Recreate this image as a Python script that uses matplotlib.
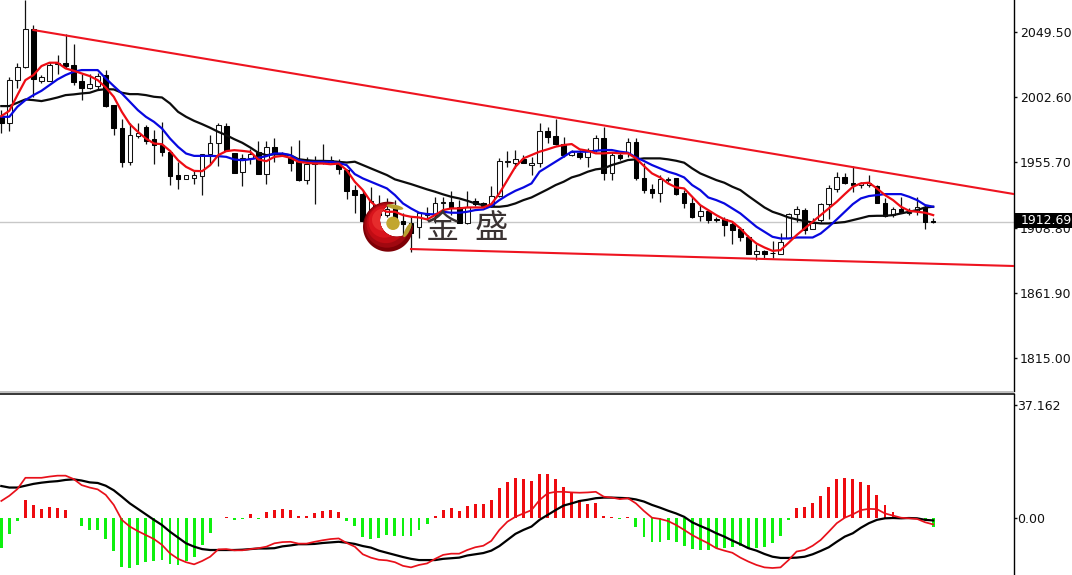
import numpy as np
import matplotlib
matplotlib.use("Agg")
import matplotlib.pyplot as plt
from matplotlib.patches import Polygon, Circle, Ellipse, Rectangle

W, H = 1072, 575

opens = [1988.5,1983.7,2014.9,2024.0,2051.4,2014.4,2014.4,2026.4,2026.9,2025.5,2014.0,2009.1,2010.6,2018.3,1996.9,1980.8,
1955.9,1974.6,1981.1,1972.7,1967.9,1963.1,1946.3,1943.6,1944.3,1945.8,1961.6,1969.3,1981.8,1962.6,1948.9,1958.7,
1963.3,1947.2,1966.9,1960.7,1959.7,1955.9,1942.9,1954.9,1955.4,1954.9,1954.9,1950.1,
1935.8,1932.7,1918.0,1925.0,1918.0,1923.8,1913.7,1911.8,1909.4,1917.8,1917.8,1926.2,1927.4,1923.8,1912.3,1928.1,
1926.2,1924.8,1931.7,1955.7,1955.5,1958.4,1953.6,1955.0,1978.5,1974.7,1968.9,1960.8,1962.2,1959.8,1964.6,1973.0,
1947.8,1960.8,1962.7,1970.6,1944.7,1936.3,1933.9,1943.0,1944.2,1933.4,1926.2,1917.1,1920.4,1914.7,1914.7,1911.1,
1907.5,1902.2,1889.7,1892.1,1890.7,1889.7,1901.0,1918.3,1921.4,1908.0,1914.2,1925.7,1936.8,1945.4,1941.1,1939.2,
1939.6,1938.7,1926.7,1918.0,1921.9,1919.5,1920.9,1923.3,1913.7]
closes = [1983.7,2014.9,2024.0,2051.4,2015.4,2016.8,2025.7,2027.4,2025.0,2013.5,2009.1,2011.8,2017.8,1996.2,1980.6,1955.9,
1975.3,1977.0,1971.2,1967.9,1963.1,1945.8,1943.6,1946.7,1946.3,1961.6,1969.3,1982.3,1964.5,1948.2,1958.7,1961.6,
1947.2,1966.9,1961.6,1961.6,1955.4,1942.9,1954.9,1956.3,1956.8,1957.3,1950.6,1935.2,
1932.2,1913.7,1928.0,1918.0,1922.0,1911.8,1911.3,1904.6,1919.5,1919.5,1926.7,1927.2,1923.3,1912.3,1923.3,1925.7,
1924.3,1931.7,1956.4,1956.4,1958.4,1955.5,1955.0,1978.5,1974.2,1968.9,1960.8,1963.2,1959.8,1964.6,1973.0,1947.8,
1961.0,1958.8,1970.6,1944.7,1935.8,1933.4,1943.5,1943.5,1932.9,1926.2,1916.6,1920.4,1914.2,1914.2,1910.6,1907.0,
1901.7,1889.7,1892.1,1889.7,1890.2,1898.6,1918.5,1921.9,1907.0,1912.3,1925.5,1937.2,1945.4,1940.6,1939.2,1940.6,
1940.6,1926.2,1917.1,1921.9,1920.0,1920.2,1923.3,1912.8,1913.2]
highs = [1993.3,2017.3,2026.9,2072.5,2054.5,2018.5,2028.1,2032.9,2047.8,2040.8,2019.2,2019.2,2019.7,2022.1,1996.9,1986.6,
1983.7,1983.7,1982.5,1978.9,1984.9,1964.5,1956.1,1946.7,1950.1,1962.1,1975.3,1983.7,1983.7,1962.6,1961.6,1965.0,
1971.0,1971.2,1973.6,1963.3,1967.4,1971.7,1959.7,1960.2,1968.8,1960.2,1958.5,1951.3,
1939.4,1935.8,1937.7,1932.0,1929.8,1928.6,1919.0,1916.6,1920.2,1923.3,1931.0,1931.0,1935.3,1928.6,1935.3,1929.8,
1927.4,1938.9,1958.6,1964.1,1964.6,1961.0,1959.8,1984.3,1981.4,1986.7,1974.2,1964.6,1964.6,1965.8,1975.4,1981.4,
1963.4,1962.2,1973.0,1973.0,1955.0,1940.1,1946.6,1944.9,1944.2,1935.8,1930.5,1925.0,1920.9,1916.6,1916.6,1913.0,
1909.4,1903.4,1896.9,1892.6,1899.3,1905.1,1919.0,1924.3,1922.6,1915.4,1926.2,1939.4,1949.0,1948.3,1953.1,1941.8,
1946.6,1939.4,1929.8,1923.8,1931.0,1922.6,1931.0,1925.0,1915.4]
lows = [1976.5,1978.4,2008.9,2023.3,2002.9,2012.5,2014.4,2019.2,2023.3,2011.3,2000.5,2008.2,2007.7,1995.2,1975.3,1952.5,
1953.7,1973.6,1968.8,1954.4,1960.2,1939.3,1936.9,1943.6,1940.0,1932.1,1954.9,1953.0,1964.0,1948.2,1938.6,1954.9,
1947.2,1940.0,1956.1,1960.2,1949.6,1942.4,1940.0,1925.6,1954.9,1954.4,1947.7,1929.7,
1919.0,1913.0,1916.1,1915.0,1916.6,1908.2,1903.4,1891.4,1901.0,1914.2,1911.8,1919.0,1917.8,1911.8,1911.3,1924.3,
1923.3,1923.8,1931.0,1952.6,1951.4,1955.0,1946.6,1952.6,1969.9,1968.2,1959.8,1960.3,1957.9,1952.6,1963.4,1943.0,
1943.0,1957.4,1959.8,1943.0,1933.9,1929.8,1927.4,1941.8,1932.2,1922.6,1915.4,1913.7,1911.8,1913.0,1902.7,1896.9,
1899.3,1889.7,1885.4,1887.3,1886.6,1889.7,1901.0,1913.0,1904.1,1907.5,1913.0,1914.7,1934.6,1940.1,1934.6,1937.0,
1938.2,1926.2,1916.1,1916.6,1919.0,1917.8,1917.8,1907.5,1911.8]

ma_red = [1989.0,1992.8,2004.1,2014.9,2018.5,2025.0,2027.4,2027.4,2023.3,2021.6,2019.7,2017.8,2014.9,2009.6,2002.9,1992.1,
1983.2,1977.7,1972.9,1969.3,1968.8,1964.0,1957.3,1952.5,1949.6,1949.4,1953.7,1960.9,1963.8,1964.5,1964.0,1963.3,
1957.8,1956.6,1959.7,1960.4,1959.0,1956.1,1955.4,1954.9,1954.9,1954.4,1954.9,1950.1,
1941.8,1935.8,1927.4,1922.6,1920.2,1920.2,1917.8,1916.6,1916.1,1914.7,1917.8,1921.4,1922.6,1922.6,1923.3,1923.3,
1923.3,1925.7,1933.4,1943.0,1952.6,1958.6,1961.0,1963.4,1965.1,1967.0,1968.2,1968.9,1965.1,1964.1,1962.2,1962.2,
1962.7,1962.2,1962.2,1958.6,1953.1,1947.8,1944.9,1940.6,1937.7,1937.0,
1931.0,1925.0,1921.4,1917.8,1914.7,1913.0,1908.2,1902.2,1897.4,1894.5,1892.1,1892.6,1897.9,1903.4,1908.2,1913.0,
1917.8,1922.6,1927.4,1932.9,1938.2,1940.6,1941.1,1937.0,1932.2,1928.6,1923.8,1920.9,1920.2,1919.5,1917.8]
ma_blue = [1988.5,1988.5,1995.7,2000.5,2004.1,2007.2,2011.3,2015.4,2018.5,2020.9,2022.1,2022.1,2022.1,2016.1,2010.6,2005.3,
1999.3,1993.3,1988.5,1984.9,1980.1,1972.9,1966.9,1962.1,1960.4,1960.4,1960.4,1960.2,1959.7,1957.8,1957.3,1958.0,
1959.0,1960.2,1962.1,1962.1,1960.9,1957.3,1956.1,1956.1,1956.1,1956.1,1955.4,1953.7,
1947.3,1944.2,1941.8,1939.4,1937.0,1932.2,1926.2,1922.6,1919.5,1918.5,1918.3,1920.2,1919.5,1919.5,1920.2,1921.4,
1921.9,1924.3,1928.6,1932.2,1935.3,1937.7,1940.6,1949.0,1952.6,1956.2,1959.8,1963.4,1963.4,1963.4,1964.1,1964.6,
1964.6,1963.4,1962.7,1959.3,1956.7,1953.8,1951.4,1949.0,1947.3,1944.9,
1939.4,1935.8,1930.5,1928.6,1926.2,1922.6,1919.0,1914.2,1909.4,1905.8,1902.2,1901.0,1901.0,1901.7,1901.7,1901.7,
1904.6,1909.4,1914.7,1920.2,1925.7,1929.8,1931.5,1932.2,1932.9,1932.9,1932.9,1931.0,1928.6,1925.0,1923.8]
ma_black = [1996.2,1996.2,1998.6,2001.0,2000.5,1999.8,2001.0,2002.4,2004.1,2004.6,2005.3,2005.8,2007.7,2008.4,2008.2,2005.8,
2004.8,2004.8,2004.1,2002.9,2002.4,1998.1,1992.1,1988.5,1985.6,1983.2,1980.6,1977.7,1975.3,1972.4,1969.8,1966.4,
1962.6,1960.9,1961.6,1961.6,1960.9,1958.0,1957.3,1956.8,1956.8,1956.6,1956.1,1955.6,
1956.2,1953.8,1951.4,1949.0,1946.6,1943.5,1941.8,1940.1,1938.2,1936.3,1934.6,1932.7,1931.0,1929.8,1928.1,1926.2,
1925.0,1923.8,1923.8,1924.5,1926.2,1928.6,1930.5,1933.4,1936.3,1939.4,1941.8,1944.9,1946.6,1949.0,1950.7,1951.4,
1953.8,1955.5,1957.4,1957.9,1958.6,1958.6,1958.6,1957.9,1956.9,1955.5,
1951.4,1947.8,1945.4,1943.0,1941.1,1938.2,1935.8,1931.5,1927.4,1923.3,1920.2,1918.3,1916.1,1914.7,1913.5,1912.5,
1911.8,1911.8,1912.3,1912.8,1914.2,1915.6,1917.1,1917.3,1917.3,1917.8,1919.0,1920.2,1921.4,1923.3,1923.8]

trend_upper = [2050.9, 1933.0]
trend_lower = [1893.4, 1881.2]
last_price = 1912.69

hist = [-9.6,-5.0,-0.8,6.0,4.4,3.0,3.7,3.3,2.7,0.1,-2.5,-3.8,-3.9,-6.8,-10.6,-16.0,-16.2,-15.3,-14.2,-13.9,-13.7,-15.0,
-15.3,-14.0,-12.6,-8.7,-4.7,0.2,0.4,-0.5,-0.2,1.3,-0.2,2.2,2.7,3.1,2.7,0.9,0.9,1.6,2.4,2.7,2.2,-0.8,
-2.4,-6.1,-6.8,-6.6,-5.5,-5.7,-5.7,-5.7,-3.8,-1.7,0.7,2.7,3.3,2.4,4.0,4.7,4.7,6.0,10.1,11.8,13.1,12.9,12.2,14.4,14.4,
12.9,10.3,8.7,6.0,4.7,5.1,0.9,0.3,-0.2,0.4,-2.7,-6.0,-7.9,-7.7,-7.1,-7.9,-9.0,-10.1,-10.4,-10.4,-9.8,-9.6,-9.3,-9.0,
-9.8,-9.8,-9.3,-8.0,-5.7,-0.5,3.3,3.7,5.0,7.3,10.3,12.8,13.1,12.8,11.8,10.9,7.5,4.4,2.2,0.5,0.1,0.2,-0.3,-2.7]
macd_red = [5.7,7.4,9.6,13.3,13.3,13.3,13.7,14.0,14.0,12.9,10.9,10.1,9.5,7.7,4.4,-0.5,-2.7,-4.2,-5.5,-6.8,-8.7,-11.5,
-13.3,-14.4,-15.1,-14.0,-12.6,-10.2,-10.1,-10.5,-10.5,-10.1,-9.8,-9.3,-8.2,-7.8,-7.7,-8.3,-8.3,-7.7,-7.2,-6.8,-6.6,-8.1,
-9.3,-11.8,-12.9,-13.6,-13.8,-14.4,-15.6,-16.1,-15.3,-14.8,-13.3,-12.0,-11.6,-11.6,-10.4,-9.5,-9.0,-7.4,-3.8,-1.1,0.5,
1.6,2.7,6.0,8.2,8.7,8.7,8.5,8.4,8.5,8.7,7.1,6.8,6.3,6.6,4.9,2.4,0.2,-0.2,-0.9,-2.2,-3.8,
-5.5,-6.9,-8.2,-9.8,-10.6,-11.3,-12.9,-14.2,-15.3,-16.1,-16.3,-16.1,-13.7,-10.9,-10.4,-9.0,-7.1,-4.4,-1.6,0.2,1.3,2.7,
3.1,3.0,1.6,0.9,0.2,0.0,-0.2,-1.3,-2.0]
macd_black = [10.6,10.1,10.1,10.7,11.3,11.7,12.0,12.2,12.6,12.8,12.4,11.8,11.6,10.7,9.2,7.1,4.9,3.1,1.3,-0.5,-2.2,-4.4,
-6.3,-8.2,-9.3,-10.1,-10.4,-10.4,-10.4,-10.4,-10.3,-10.1,-9.9,-9.9,-9.8,-9.2,-8.9,-8.5,-8.5,-8.4,-8.1,-7.9,-7.7,-8.0,
-8.4,-9.1,-9.6,-10.6,-11.3,-12.0,-12.7,-13.3,-13.7,-13.7,-13.7,-13.3,-13.1,-12.9,-12.2,-11.8,-11.4,-10.6,-9.1,-7.1,-5.1,
-3.8,-2.7,-0.5,1.1,2.7,4.2,4.9,5.7,6.1,6.6,6.8,6.8,6.7,6.6,6.2,5.5,4.4,3.5,2.5,1.6,0.5,
-1.3,-2.5,-3.6,-4.9,-6.0,-7.3,-8.5,-9.8,-10.6,-11.7,-12.6,-13.0,-13.0,-12.9,-12.6,-11.8,-10.7,-9.5,-7.7,-6.0,-4.9,-3.1,
-1.6,-0.5,0.0,0.1,0.0,0.1,0.0,-0.5,-0.7]

price_ticks = [2049.50, 2002.60, 1955.70, 1908.80, 1861.90, 1815.00]
macd_ticks = [37.162, 0.0]
macd_tick_labels = ["37.162", "0.00"]
logo_chars = ["金", "盛"]

fig = plt.figure(figsize=(W / 100, H / 100), dpi=100, facecolor="white")
plt.rcParams["font.family"] = ["DejaVu Sans"]


def pane(top, bottom, right=1013.5):
    return fig.add_axes([0, 1 - bottom / H, right / W, (bottom - top) / H])


ax = pane(0, 391)
ax2 = pane(394, 575)
xlim = (-0.162, 126.0)
idx = np.arange(len(opens))
O, C, Hi, Lo = map(np.array, (opens, closes, highs, lows))

# candles
ax.vlines(idx, Lo, Hi, color="#111111", lw=0.9, zorder=2)
up = C >= O
bw = 4.6 / 8.03
ax.bar(idx[up], np.maximum(C - O, 0.4)[up], bw, bottom=O[up], facecolor="white", edgecolor="#111111", lw=0.75, zorder=3)
ax.bar(idx[~up], np.maximum(O - C, 0.4)[~up], bw, bottom=C[~up], facecolor="black", edgecolor="black", lw=0.75, zorder=3)

# moving averages
ax.plot(idx, ma_black, color="#0c0c0c", lw=1.6, zorder=4)
ax.plot(idx, ma_blue, color="#0808e0", lw=1.6, zorder=5)
ax.plot(idx, ma_red, color="#ee0c14", lw=1.6, zorder=6)

# trendlines
ax.plot([4, 126], trend_upper, color="#ee1420", lw=1.5, zorder=6)
ax.plot([51, 126], trend_lower, color="#ee1420", lw=1.5, zorder=6)
ax.axhline(last_price, color="#c8c8c8", lw=1, zorder=1)

ax.set_xlim(*xlim)
ax.set_ylim(1791.3, 2072.5)
ax.set_xticks([])
ax.yaxis.tick_right()
ax.set_yticks(price_ticks, [f"{t:.2f}" for t in price_ticks])
ax.tick_params(axis="y", length=2, width=1, pad=2.5, labelsize=9, colors="#111111")
for s in ("top", "left", "bottom"):
    ax.spines[s].set_visible(False)
ax.spines["right"].set_linewidth(1)

# MACD pane
hist_arr = np.array(hist)
colors = np.where(hist_arr >= 0, "#ee0b10", "#0ef00e")
ax2.bar(idx, hist_arr, 2.9 / 8.03, color=colors, lw=0, zorder=2)
ax2.plot(idx, macd_black, color="black", lw=1.6, zorder=3)
ax2.plot(idx, macd_red, color="#e8101a", lw=1.25, zorder=4)
ax2.set_xlim(*xlim)
ax2.set_ylim(-18.6, 40.8)
ax2.set_xticks([])
ax2.yaxis.tick_right()
ax2.set_yticks(macd_ticks, macd_tick_labels)
ax2.tick_params(axis="y", length=2, width=1, pad=0.5, labelsize=9, colors="#111111")
for s in ("left", "bottom"):
    ax2.spines[s].set_visible(False)
ax2.spines["top"].set_linewidth(1.1)
ax2.spines["right"].set_linewidth(1)

# logo, price tag and separator on a pixel overlay
ov = fig.add_axes([0, 0, 1, 1], zorder=10)
ov.set_xlim(0, W)
ov.set_ylim(H, 0)
ov.axis("off")
ov.patch.set_alpha(0)
ov.plot([0, 1013], [392, 392], color="#b4b4b4", lw=1.2)
ov.add_patch(Rectangle((1014, 213), 58, 15, fc="black", ec="none"))
ov.text(1020.5, 221, f"{last_price:.2f}", color="white", fontsize=9, va="center", ha="left")

cx, cy, r = 388, 226.7, 25
ix, iy, ir = 396.7, 220, 16.7
a = np.radians(np.linspace(-4, 290, 90))
b = np.radians(np.linspace(270, 17, 70))
pts = np.vstack([np.c_[cx + r * np.cos(a), cy + r * np.sin(a)],
                 np.c_[ix + ir * np.cos(b), iy + ir * np.sin(b)]])
shape = Polygon(pts, closed=True, fc="#7e0006", ec="none")
ov.add_patch(shape)
for dx, dy, rr, col in [(-1, -1.5, 22.5, "#a00810"), (-2, -3, 19.5, "#c00c14"), (-3.5, -5, 16, "#d8141c"), (-5, -7, 11, "#e62c2c")]:
    c = Circle((cx + dx, cy + dy), rr, fc=col, ec="none")
    ov.add_patch(c)
    c.set_clip_path(shape)
ov.add_patch(Circle((393, 223.3), 6.7, fc="#c2a62e", ec="none"))
ov.add_patch(Ellipse((395, 207), 17, 4.5, angle=12, fc="#b8a030", ec="none"))
ov.add_patch(Ellipse((407.5, 230), 4.5, 16, angle=28, fc="#b8a030", ec="none"))
for ch, x in zip(logo_chars, (442, 491)):
    ov.text(x, 228, ch, family=["Noto Sans CJK SC", "DejaVu Sans"], fontsize=24, color="#3a3232",
            ha="center", va="center")

fig.savefig("out.png", dpi=100, facecolor="white")
